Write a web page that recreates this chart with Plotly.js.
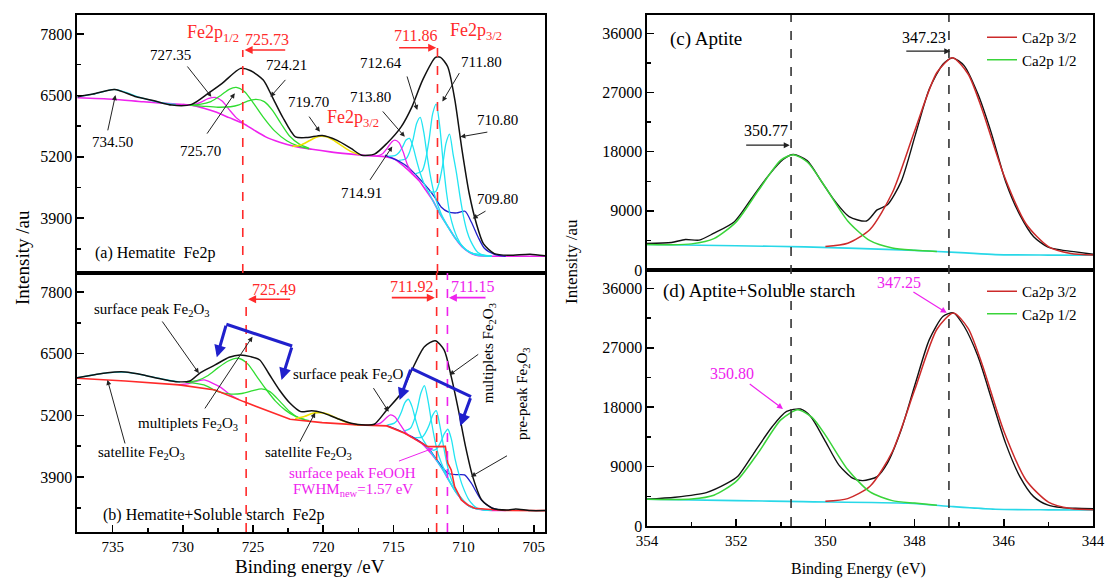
<!DOCTYPE html>
<html><head><meta charset="utf-8">
<script src="https://cdn.plot.ly/plotly-3.0.1.min.js"></script>
<style>html,body{margin:0;padding:0;background:#fff}#chart{width:1106px;height:580px}</style>
</head><body><div id="chart"></div>
<script>
// ---------- Panel (a) Hematite Fe2p ----------
const aTotalX = [737.5,736.4,734.86,733.33,732.05,730.78,729.38,728.2,727.2,725.88,725.16,724.27,723.63,722.9,721.98,721.1,720.07,719.04,718.02,717.26,716.35,715.47,714.45,713.68,712.92,712.0,711.64,711.13,710.62,710.11,709.6,709.09,708.59,707.81,706.8,705.26,704.12];
const aTotalY = [6471,6528,6627,6471,6386,6295,6310,6543,6755,7073,7022,6825,6471,6047,5623,5610,5652,5553,5377,5235,5256,5483,5835,6259,6825,7306,7306,7107,6401,5341,4423,3787,3363,3151,3115,3136,3100];
const aBgX = [737.5,735,732.8,730.5,729.4,728.5,727.7,726.7,725.7,724.9,724.1,723.1,722.1,720.8,719.5,718.2,717,715.5,714.9,714.2,713.7,713.2,712.7,712.2,711.7,711.1,710.6,710.1,709.6,709.1,708.5,707.3,704.1];
const aBgY = [6450,6420,6365,6320,6295,6230,6153,6030,5907,5760,5623,5510,5426,5360,5305,5262,5228,5199,5150,4987,4850,4705,4500,4281,4000,3715,3480,3291,3180,3115,3100,3094,3094];
const aCyanLX = [737.5,736.5,735.8,734.9,734,733.2,732.2,731.2,730.5];
const aCyanLY = [6471,6520,6570,6627,6560,6470,6390,6330,6310];
const aMag1X = [730,729.3,728.7,728.2,727.7,727.2,726.7,726.2,725.7];
const aMag1Y = [6310,6300,6360,6430,6458,6380,6200,6030,5920];
const aGreen1X = [729.5,728.8,728.0,727.3,726.7,726.2,725.6,725.0,724.3,723.5,722.6,721.8,721.0];
const aGreen1Y = [6300,6310,6370,6500,6630,6670,6580,6350,6050,5760,5540,5430,5370];
const aGreen2X = [729.5,728.5,727.5,726.6,726,725.4,724.78,724.2,723.6,723,722.4,721.7,721];
const aGreen2Y = [6295,6270,6250,6260,6300,6380,6416,6370,6180,5900,5640,5470,5380];
const aYellowX = [722.2,721.6,721,720.5,720.19,719.7,719.2,718.6,718,717.4];
const aYellowY = [5420,5450,5540,5615,5638,5620,5540,5420,5310,5245];
const aMag2X = [716.2,715.8,715.4,715.1,714.9,714.6,714.3,714.0,713.6,713.2];
const aMag2Y = [5215,5260,5400,5520,5553,5500,5300,5030,4830,4705];
const aCyanAX = [715.35,714.85,714.6,714.35,714.1,713.85,713.6,713.35,713.1,712.85,712.35,711.5,710.5,709.5,708];
const aCyanAY = [5213,5232,5291,5407,5555,5589,5410,5124,4864,4657,4366,3900,3440,3170,3096];
const aCyanBX = [714.6,714.1,713.84,713.59,713.34,713.09,712.84,712.59,712.34,712.09,711.59,711,710.3,709.5,708];
const aCyanBY = [5124,5158,5307,5577,5911,6034,5729,5209,4754,4418,3991,3672,3368,3170,3096];
const aCyanCX = [713.45,712.95,712.7,712.45,712.2,711.95,711.7,711.45,711.2,710.95,710.45,710,709.5,709,708];
const aCyanCY = [4839,4903,5147,5578,6115,6316,5851,5066,4407,3949,3487,3275,3170,3112,3096];
const aCyanDX = [712.5,712,711.75,711.5,711.25,711,710.75,710.5,710.25,710,709.75,709.5,709,708.5,708];
const aCyanDY = [4470,4461,4643,5006,5489,5680,5259,4846,4350,3930,3620,3420,3180,3110,3096];
const aBlueX = [715.6,714.5,714.0,713.5,713.0,712.5,712.0,711.6,711.1,710.5,709.9,709.45,708.97,708.5,707.8,707];
const aBlueY = [5235,5090,4990,4850,4690,4520,4320,4139,4033,4011,4048,3821,3503,3257,3136,3094];

// ---------- Panel (b) Hematite + Soluble starch ----------
const bTotalX = [737.54,736.39,735.37,734.1,732.8,731.8,730.5,729.5,728.74,727.7,726.7,725.93,725.16,724.52,723.89,723.12,722.36,721.6,720.83,720.07,719.04,718.02,717.0,716.36,715.47,714.45,713.68,712.79,712.02,711.39,710.88,710.37,709.86,709.35,708.71,707.95,706.8,706.29,705.26,704.1];
const bTotalY = [5994,6051,6100,6114,6051,5981,5910,5925,6100,6262,6424,6473,6437,6367,6087,5735,5455,5278,5299,5257,5139,5033,4998,5012,5314,5666,6157,6647,6774,6578,6015,5314,4541,3908,3417,3243,3207,3228,3192,3192];
const bBgX = [737.54,734.1,730.26,727.7,725.67,724.14,722.36,720.07,717.51,715.47,714.19,713.17,712.54,712.0,711.5,711.3,711.12,710.88,710.64,710.16,709.7,709.21,708.33,707,704.1];
const bBgY = [5981,5925,5841,5735,5489,5314,5117,5046,4998,4977,4823,4646,4541,4541,4555,4545,4190,4050,3698,3417,3310,3243,3221,3195,3192];
const bBg2X = [714.2,713.5,713.0,712.5,712.0,711.5,711.0,710.5,710.0,709.5,709.0,708.5,708.0,707];
const bBg2Y = [4823,4710,4610,4460,4280,4060,3800,3560,3380,3270,3225,3205,3195,3192];
const bCyanLX = [737.5,736.4,735.4,734.3,733.3,732.2,731.2,730.2];
const bCyanLY = [5994,6050,6095,6110,6080,6010,5950,5900];
const bMag1X = [730.3,729.6,729.0,728.48,727.9,727.3,726.7,726.0];
const bMag1Y = [5845,5870,5920,5946,5880,5790,5650,5530];
const bGreen1X = [729.8,729.0,728.2,727.5,726.8,726.06,725.4,724.8,724.1,723.4,722.7,722.0,721.3];
const bGreen1Y = [5905,5930,6040,6200,6340,6403,6290,6050,5760,5500,5310,5180,5110];
const bGreen2X = [729.8,728.5,727.5,726.7,725.8,725,724.4,723.8,723.1,722.4,721.7,721];
const bGreen2Y = [5900,5840,5700,5651,5660,5720,5756,5700,5500,5280,5140,5090];
const bYellowX = [722,721.3,720.8,720.3,719.7,719.1,718.5,717.8,717.2];
const bYellowY = [5130,5180,5240,5257,5230,5150,5070,5010,4995];
const bMag2X = [716.4,715.9,715.5,715.21,714.9,714.5,714.1,713.7];
const bMag2Y = [4995,5040,5150,5208,5170,5000,4830,4740];
const bCyanAX = [715.43,714.93,714.68,714.43,714.18,713.93,713.68,713.43,713.18,712.93,712.43,711.5,710.5,709.5,708];
const bCyanAY = [4998,5037,5114,5270,5469,5539,5389,5118,4877,4705,4473,4060,3560,3270,3195];
const bCyanBX = [714.29,713.79,713.54,713.29,713.04,712.79,712.54,712.29,712.04,711.79,711.29,710.5,709.5,708];
const bCyanBY = [4867,4928,5086,5348,5669,5826,5523,5070,4666,4363,3992,3560,3270,3195];
const bCyanCX = [713.45,712.95,712.7,712.45,712.2,711.95,711.7,711.45,711.2,710.95,710.45,709.5,708];
const bCyanCY = [4730,4740,4840,4995,5205,5299,5000,4585,4200,3915,3570,3270,3195];
const bCyanDX = [712.62,712.12,711.87,711.62,711.37,711.12,710.87,710.62,710.37,710.12,709.62,709,708];
const bCyanDY = [4539,4464,4512,4641,4813,4907,4700,4300,4000,3750,3420,3240,3195];
const bBlueX = [715.5,714.5,713.5,712.5,712.07,711.5,711.12,710.5,709.93,709.45,708.74,708.0,707.3];
const bBlueY = [4990,4870,4720,4510,4330,4100,3980,3950,3944,3769,3417,3249,3200];

// ---------- Panel (c) Aptite Ca2p ----------
const cTotalX = [354.0,353.45,353.14,352.83,352.51,352.04,351.65,351.26,350.95,350.72,350.41,350.09,349.78,349.47,349.08,348.84,348.61,348.3,347.98,347.67,347.36,347.15,346.89,346.58,346.27,345.96,345.64,345.33,345.02,344.7,344.39,344.0];
const cTotalY = [4030,4183,4643,4550,5561,7354,10923,14508,16806,17572,16653,13482,10418,8120,7461,9146,9912,13482,20636,27530,31360,32279,31100,26764,20636,13482,8380,5056,3524,3018,2758,2405];
const cBgX = [354,352,350.46,348.14,346.97,346.19,345,344];
const cBgY = [3876,3680,3524,3018,2650,2344,2270,2252];
const cGreenX = [354,353.5,353,352.5,352,351.5,351,350.72,350.4,350,349.5,349,348.5,348,347.5];
const cGreenY = [3877,3854,3976,4766,7320,12130,16710,17550,16390,12590,7470,4460,3354,3022,2830];
const cRedX = [350,349.5,349,348.5,348,347.5,347.15,346.8,346.5,346,345.5,345,344.5,344];
const cRedY = [3571,4060,6160,11750,21150,30050,32300,29820,24700,14460,7000,3570,2517,2288];

// ---------- Panel (d) Aptite + Soluble starch ----------
const dTotalX = [354.0,353.37,352.67,352.2,351.97,351.58,351.19,350.87,350.56,350.33,350.02,349.7,349.39,349.16,348.84,348.61,348.3,347.98,347.67,347.36,347.13,346.89,346.58,346.27,345.96,345.64,345.33,345.02,344.7,344.39,344.0];
const dTotalY = [4056,4360,5058,6486,7489,11286,15084,17362,17727,16603,13063,9266,7246,6881,7489,9524,14582,21676,28253,31794,32310,30274,25717,19139,12562,7489,4451,3190,2780,2689,2628];
const dBgX = [354,352,350.5,348.14,347.13,346.19,345,344];
const dBgY = [4056,3850,3691,3448,2932,2537,2450,2430];
const dGreenX = [354,353.5,353,352.5,352,351.5,351,350.62,350.3,350,349.5,349,348.5,348,347.5];
const dGreenY = [4056,4015,4082,4665,6755,11155,16090,17610,16460,13780,8560,5160,3848,3470,3150];
const dRedX = [350,349.5,349,348.5,348,347.5,347.13,346.8,346.5,346,345.5,345,344.5,344];
const dRedY = [3735,4149,6017,11254,20600,29820,32300,29960,24790,14410,6940,3630,2658,2460];

const legendNames = ['Ca2p 3/2','Ca2p 1/2'];

// ---------- styling ----------
const FONT = 'Liberation Serif, Times New Roman, serif';
const K='#111111', MAG='#ee22ee', CY='#22e4f2', GR='#30dd30', YE='#eee000', BL='#2020cc', RD='#ff2a2a', RD2='#cc2a2a', GR2='#3ad43a', CY2='#28d8e8';

function tr(x,y,color,xa,ya,w,extra){
  return Object.assign({x:x,y:y,type:'scatter',mode:'lines',xaxis:xa,yaxis:ya,
    line:{color:color,width:w||1.3,shape:'spline',smoothing:0.7},showlegend:false,hoverinfo:'skip'},extra||{});
}
const data = [
  tr(aBgX,aBgY,MAG,'x','y',1.6),
  tr(aCyanLX,aCyanLY,CY,'x','y'),
  tr(aMag1X,aMag1Y,MAG,'x','y'),
  tr(aGreen1X,aGreen1Y,GR,'x','y'),
  tr(aGreen2X,aGreen2Y,GR,'x','y'),
  tr(aYellowX,aYellowY,YE,'x','y',1.6),
  tr(aBlueX,aBlueY,BL,'x','y'),
  tr(aCyanAX,aCyanAY,CY,'x','y'),
  tr(aCyanBX,aCyanBY,CY,'x','y'),
  tr(aCyanCX,aCyanCY,CY,'x','y'),
  tr(aCyanDX,aCyanDY,CY,'x','y'),
  tr(aMag2X,aMag2Y,MAG,'x','y'),
  tr(aTotalX,aTotalY,K,'x','y',1.5),

  tr(bBg2X,bBg2Y,MAG,'x2','y2',1.4),
  tr(bCyanLX,bCyanLY,CY,'x2','y2'),
  tr(bMag1X,bMag1Y,MAG,'x2','y2'),
  tr(bGreen1X,bGreen1Y,GR,'x2','y2'),
  tr(bGreen2X,bGreen2Y,GR,'x2','y2'),
  tr(bYellowX,bYellowY,YE,'x2','y2',1.6),
  tr(bBlueX,bBlueY,BL,'x2','y2'),
  tr(bCyanAX,bCyanAY,CY,'x2','y2'),
  tr(bCyanBX,bCyanBY,CY,'x2','y2'),
  tr(bCyanCX,bCyanCY,CY,'x2','y2'),
  tr(bCyanDX,bCyanDY,CY,'x2','y2'),
  tr(bMag2X,bMag2Y,MAG,'x2','y2'),
  tr(bBgX,bBgY,RD,'x2','y2',1.6,{line:{color:RD,width:1.6,shape:'linear'}}),
  tr(bTotalX,bTotalY,K,'x2','y2',1.5),

  tr(cBgX,cBgY,CY2,'x3','y3',1.6),
  tr(cTotalX,cTotalY,K,'x3','y3',1.4),
  tr(cRedX,cRedY,RD2,'x3','y3',1.5,{showlegend:true,name:legendNames[0],legend:'legend'}),
  tr(cGreenX,cGreenY,GR2,'x3','y3',1.5,{showlegend:true,name:legendNames[1],legend:'legend'}),

  tr(dBgX,dBgY,CY2,'x4','y4',1.6),
  tr(dTotalX,dTotalY,K,'x4','y4',1.4),
  tr(dRedX,dRedY,RD2,'x4','y4',1.5,{showlegend:true,name:legendNames[0],legend:'legend2'}),
  tr(dGreenX,dGreenY,GR2,'x4','y4',1.5,{showlegend:true,name:legendNames[1],legend:'legend2'})
];

// ---------- axes ----------
const W=1106,H=580;
function px2x(p){return p/W;} function py2y(p){return 1-p/H;}
const axBase = {showline:true,mirror:true,linecolor:'#000',linewidth:1.6,zeroline:false,showgrid:false,
  ticks:'inside',ticklen:7,tickwidth:1.5,tickcolor:'#000',tickfont:{family:FONT,size:16,color:'#000'},autorange:false,tickformat:'d'};
function ax(o){return Object.assign({},axBase,o);}
const leftXDom=[px2x(77),px2x(545)], rightXDom=[px2x(647),px2x(1093)];
const yAdom=[py2y(273),py2y(15)], yBdom=[py2y(532),py2y(273)];
const yCdom=[py2y(270),py2y(15)], yDdom=[py2y(526),py2y(270)];
const mnr = (t0,dt)=>({ticks:'inside',ticklen:4,tickwidth:1.5,tickcolor:'#000',tick0:t0,dtick:dt});

const layout = {
  width:W,height:H,margin:{l:0,r:0,t:0,b:0},paper_bgcolor:'#fff',plot_bgcolor:'rgba(0,0,0,0)',
  font:{family:FONT,color:'#000'},
  xaxis: ax({domain:leftXDom,anchor:'y',range:[737.54,704.2],showticklabels:false,ticks:''}),
  yaxis: ax({domain:yAdom,anchor:'x',range:[2740,8203],tickmode:'linear',tick0:3900,dtick:1300,minor:mnr(3900,650)}),
  xaxis2: ax({domain:leftXDom,anchor:'y2',range:[737.54,704.2],tickmode:'linear',tick0:705,dtick:5,
    tickfont:{family:FONT,size:15,color:'#000'},minor:mnr(705,2.5)}),
  yaxis2: ax({domain:yBdom,anchor:'x2',range:[2741,8200],tickmode:'linear',tick0:3900,dtick:1300,minor:mnr(3900,650)}),
  xaxis3: ax({domain:rightXDom,anchor:'y3',range:[354,344],showticklabels:false,ticks:''}),
  yaxis3: ax({domain:yCdom,anchor:'x3',range:[0,38800],tickmode:'linear',tick0:0,dtick:9000,minor:mnr(0,4500)}),
  xaxis4: ax({domain:rightXDom,anchor:'y4',range:[354,344],tickmode:'linear',tick0:344,dtick:2,
    tickfont:{family:FONT,size:15,color:'#000'},minor:mnr(344,1)}),
  yaxis4: ax({domain:yDdom,anchor:'x4',range:[0,38800],tickmode:'linear',tick0:0,dtick:9000,minor:mnr(0,4500)}),
  legend:{x:px2x(982),y:py2y(21),xanchor:'left',yanchor:'top',bgcolor:'rgba(0,0,0,0)',font:{family:FONT,size:15,color:'#000'},tracegroupgap:0,itemwidth:30},
  legend2:{x:px2x(982),y:py2y(275),xanchor:'left',yanchor:'top',bgcolor:'rgba(0,0,0,0)',font:{family:FONT,size:15,color:'#000'},tracegroupgap:0,itemwidth:30},
  shapes:[],annotations:[]
};

// dashed reference lines
function vline(x,y0,y1,xr,yr,color){
  layout.shapes.push({type:'line',xref:xr,yref:yr,x0:x,x1:x,y0:y0,y1:y1,line:{color:color,width:1.6,dash:'dash'}});
}
vline(725.73,2740,7461,'x','y',RD); vline(711.86,2740,7510,'x','y',RD);
vline(725.49,2741,7646,'x2','y2',RD); vline(711.92,2741,8200,'x2','y2',RD); vline(711.15,2741,8200,'x2','y2',MAG);
vline(350.77,0.0931,0.9741,'x3','paper','#333'); vline(347.23,0.0931,0.9741,'x3','paper','#333');

function txt(x,y,t,xr,yr,o){
  o=o||{};
  layout.annotations.push({x:x,y:y,xref:xr,yref:yr,text:t,showarrow:false,
    xanchor:o.xa||'center',yanchor:'middle',textangle:o.rot||0,
    font:{family:FONT,size:o.size||15,color:o.color||'#000'}});
}
function arr(x0,y0,x1,y1,xr,yr,o){
  o=o||{};
  layout.annotations.push({x:x1,y:y1,ax:x0,ay:y0,xref:xr,yref:yr,axref:xr,ayref:yr,text:'',showarrow:true,
    arrowhead:o.head||2,arrowsize:o.size||1,arrowwidth:o.w||1,arrowcolor:o.color||'#222',standoff:0,startstandoff:0});
}
function seg(x0,y0,x1,y1,xr,yr,color,w){
  layout.shapes.push({type:'line',xref:xr,yref:yr,x0:x0,x1:x1,y0:y0,y1:y1,line:{color:color,width:w}});
}

// panel (a) labels
[['727.35',730.9,7356],['724.21',722.6,7144],['719.70',721.08,6365],['734.50',734.99,5517],['725.70',728.74,5326],
 ['712.64',715.85,7179],['713.80',716.62,6471],['711.80',708.7,7213],['710.80',707.56,5977],['714.91',717.26,4436],['709.80',707.56,4317]]
 .forEach(a=>txt(a[1],a[2],a[0],'x','y'));
txt(727.84,7814,'Fe2p<sub>1/2</sub>','x','y',{size:18,color:RD});
txt(724.02,7687,'725.73','x','y',{size:16,color:RD});
txt(713.43,7779,'711.86','x','y',{size:16,color:RD});
txt(709.09,7849,'Fe2p<sub>3/2</sub>','x','y',{size:18,color:RD});
txt(717.9,6018,'Fe2p<sub>3/2</sub>','x','y',{size:18,color:RD});
txt(736.4,3164,'(a) Hematite\u00a0 Fe2p','x','y',{size:16,xa:'left'});
[[729.76,7144,727.97,6471],[722.6,6861,723.76,6471],[721.08,6083,720.24,5729],[735.37,5729,734.8,6507],[728.35,5659,726.3,6545],
 [714.06,6933,713.3,6193],[715.85,6193,714.19,5623],[710.24,7004,711.51,6370],[708.2,5729,710.23,5623],[716.74,4678,715.08,5418],[708.33,4069,709.35,3893]]
 .forEach(a=>arr(a[0],a[1],a[2],a[3],'x','y'));
arr(722.6,7461,725.6,7461,'x','y',{color:RD,w:1.6});
arr(714.7,7510,711.95,7510,'x','y',{color:RD,w:1.6});

// panel (b) labels
txt(732.2,7421,'surface peak Fe<sub>2</sub>O<sub>3</sub>','x2','y2');
txt(729.6,5019,'multiplets Fe<sub>2</sub>O<sub>3</sub>','x2','y2');
txt(732.95,4414,'satellite Fe<sub>2</sub>O<sub>3</sub>','x2','y2');
txt(718.26,6051,'surface peak Fe<sub>2</sub>O','x2','y2');
txt(721.08,4401,'satellite Fe<sub>2</sub>O<sub>3</sub>','x2','y2');
txt(717.9,3980,'surface peak FeOOH','x2','y2',{color:MAG});
txt(717.9,3628,'FWHM<sub>new</sub>=1.57 eV','x2','y2',{color:MAG});
txt(708.2,6508,'multiplets Fe<sub>2</sub>O<sub>3</sub>','x2','y2',{rot:-90});
txt(705.78,5666,'pre-peak Fe<sub>2</sub>O<sub>3</sub>','x2','y2',{rot:-90});
txt(723.5,7857,'725.49','x2','y2',{size:16,color:RD});
txt(713.74,7926,'711.92','x2','y2',{size:16,color:RD});
txt(709.35,7926,'711.15','x2','y2',{size:16,color:MAG});
txt(735.8,3101,'(b) Hematite+Soluble starch\u00a0 Fe2p','x2','y2',{size:16,xa:'left'});
[[731.54,7210,728.86,6087],[728.5,5314,725.04,6858],[734.09,4576,735.37,5946],[721.72,4612,720.57,5257],
 [716.49,5805,715.34,5278],[708.85,6508,711.0,6051],[706.8,4366,709.47,3908]]
 .forEach(a=>arr(a[0],a[1],a[2],a[3],'x2','y2'));
arr(714.71,4224,712.16,4507,'x2','y2',{color:MAG});
arr(722.25,7646,725.35,7646,'x2','y2',{color:RD,w:1.6});
arr(715.22,7680,712.05,7680,'x2','y2',{color:RD,w:1.6});
arr(708.33,7680,711.05,7680,'x2','y2',{color:MAG,w:1.6});
// blue brackets
seg(726.9,7119,722.21,6662,'x2','y2',BL,3);
arr(726.9,7119,727.58,6424,'x2','y2',{color:BL,w:3,size:0.8});
arr(722.21,6662,722.97,5946,'x2','y2',{color:BL,w:3,size:0.8});
seg(713.74,6192,709.47,5594,'x2','y2',BL,3);
arr(713.74,6192,714.56,5524,'x2','y2',{color:BL,w:3,size:0.8});
arr(709.47,5594,710.24,4977,'x2','y2',{color:BL,w:3,size:0.8});

// panel (c)
txt(353.53,35190,'(c) Aptite','x3','y3',{size:19,xa:'left'});
txt(347.79,35440,'347.23','x3','y3',{size:16});
txt(351.34,21250,'350.77','x3','y3',{size:16});
arr(348.22,33290,347.2,33290,'x3','y3',{w:1.2});
arr(351.81,19000,350.8,19000,'x3','y3',{w:1.2});
// panel (d)
txt(353.69,35590,'(d) Aptite+Soluble starch','x4','y4',{size:19,xa:'left'});
txt(348.34,36960,'347.25','x4','y4',{size:16,color:MAG});
txt(352.09,23089,'350.80','x4','y4',{size:16,color:MAG});
arr(348.06,35590,347.28,32310,'x4','y4',{color:MAG,w:1.2});
arr(351.73,21676,350.95,17727,'x4','y4',{color:MAG,w:1.2});

// axis titles
txt(px2x(22),py2y(258),'Intensity /au','paper','paper',{size:19,rot:-90});
txt(px2x(571),py2y(262),'Intensity /au','paper','paper',{size:17,rot:-90});
txt(px2x(310),py2y(566),'Binding energy /eV','paper','paper',{size:19});
txt(px2x(858),py2y(569),'Binding Energy (eV)','paper','paper',{size:16});

Plotly.newPlot('chart',data,layout,{staticPlot:true,displayModeBar:false});
</script></body></html>
